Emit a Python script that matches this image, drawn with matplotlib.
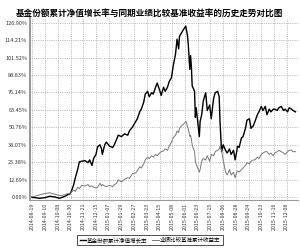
import matplotlib
matplotlib.use("Agg")
import matplotlib.pyplot as plt

plt.rcParams['font.family'] = ['Noto Sans CJK SC', 'DejaVu Sans']

# trading-day index of each sampled point
days = [0, 5, 11, 18, 24, 30, 36, 43, 46, 49, 51, 54, 56, 59, 61, 64, 68, 72, 74, 77,
        79, 82, 84, 87, 89, 90, 93, 95, 99, 103, 105, 108, 110, 114, 118, 122, 124, 128,
        132, 134, 137, 139, 142, 144, 147, 149, 152, 154, 157, 159, 162, 164, 167, 169,
        172, 174, 177, 179, 182, 184, 186, 187, 190, 192, 195, 196, 197, 198, 200, 201,
        202, 203, 206, 207, 208, 210, 212, 213, 215, 217, 220, 222, 225, 227, 230, 232,
        235, 237, 238, 240, 242, 245, 247, 250, 252, 255, 257, 259, 260, 262, 265, 267,
        270, 272, 275, 277, 280, 282, 285, 287, 290, 292, 295, 297, 300, 302, 305, 307,
        310, 312, 315, 318, 320, 323, 325, 328, 330, 333]

# fund cumulative NAV growth (%)
fund = [0, -0.5, -1, -0.5, 0.5, 0, -1, 0.5, 1.5, 2, 4, 9, 14, 20, 25.5, 26, 26.5, 25, 27, 23,
        28, 31, 36.5, 38, 35, 31, 38, 40, 37, 36, 38, 42, 45, 44, 46, 45, 48, 51,
        55, 57, 62, 64, 69, 75, 77, 73, 76, 75, 80, 83, 78, 74, 80, 77,
        80, 84, 87, 95, 104, 115, 108, 117, 120, 122, 124.5, 121, 118, 112, 93, 103,
        95, 81, 77, 58, 65, 55, 44, 55, 60, 70, 76, 63, 67, 57, 72, 76,
        77, 73, 55, 33, 38, 34, 32, 35, 31, 34, 27, 33, 37, 36, 43, 44,
        50, 56, 57, 50, 52, 55, 60, 62, 66, 63, 66, 60, 64, 62, 64, 64,
        63, 65, 66, 63, 64, 62, 65, 64, 63, 62]

# benchmark cumulative return (%)
bench = [0, 0.5, 1.5, 2.5, 3, 2, 1, 1.5, 2.5, 2, 3.5, 5, 4, 7, 6, 8.5, 8, 9, 7.5, 8,
         7, 6.5, 7, 10, 8, 9, 8, 7.5, 8.5, 7.5, 9, 10, 12.5, 11, 13, 14, 13.5, 17,
         17.5, 19, 22, 21, 24, 27, 29, 28, 30, 29, 31, 30, 32, 33, 33.5, 35,
         34, 37, 40, 43, 45, 48, 47, 50, 52, 53, 55, 54, 51, 50, 44, 45,
         42, 38, 33, 26, 24, 21, 18, 20, 26, 28, 27, 30, 26, 31, 30, 33,
         34, 35, 37, 34, 27, 18, 16, 20, 16, 18, 14, 18, 19, 18, 20, 21,
         23, 25, 24, 26, 27, 27, 29, 28, 31, 32, 33, 33, 31, 32, 30, 32,
         33, 34, 33, 32, 31, 33, 34, 34, 33, 33]

tick_days = [2 + 16 * k for k in range(21)]
tick_dates = ["2014-08-19", "2014-09-10", "2014-10-08", "2014-10-30", "2014-11-21",
              "2014-12-15", "2015-01-07", "2015-01-29", "2015-02-27", "2015-03-23",
              "2015-04-15", "2015-05-08", "2015-06-01", "2015-06-23", "2015-07-15",
              "2015-08-06", "2015-08-28", "2015-09-24", "2015-10-23", "2015-11-16",
              "2015-12-08"]
y_ticks = [0.00, 12.69, 25.38, 38.07, 50.76, 63.45, 76.14, 88.83, 101.52, 114.21, 126.90]

fig = plt.figure(figsize=(3.0, 2.49), dpi=100)
ax = fig.add_axes([0.10, 0.197, 0.893, 0.731])

ax.plot(days, fund, color='black', lw=1.0, label='基金份额累计净值增长率')
ax.plot(days, bench, color='#777777', lw=0.7, label='业绩比较基准累计收益率')

ax.set_xlim(-1, 336)
ax.set_ylim(-2.2, 130.5)
ax.set_yticks(y_ticks)
ax.set_yticklabels(['%.2f%%' % v for v in y_ticks], fontsize=4, color='#333333')
ax.set_xticks(tick_days)
ax.set_xticklabels(tick_dates, rotation=90, fontsize=3.8, color='#333333')
ax.tick_params(length=0, pad=2)

ax.grid(True, linestyle=':', color='#888888', lw=0.5)
for s in ['top', 'right']:
    ax.spines[s].set_visible(False)
ax.spines['left'].set_color('#999999')
ax.spines['left'].set_linewidth(1.5)
ax.spines['bottom'].set_color('#999999')
ax.spines['bottom'].set_linewidth(0.8)

fig.suptitle('基金份额累计净值增长率与同期业绩比较基准收益率的历史走势对比图',
             fontsize=6.2, fontweight='bold', y=0.965)

leg = fig.legend(loc='center', bbox_to_anchor=(0.5, 0.036), ncol=2, fontsize=4,
                 handlelength=1.2, handletextpad=0.2, columnspacing=0.8,
                 frameon=True, fancybox=False, borderpad=0.4)
leg.get_frame().set_edgecolor('black')
leg.get_frame().set_linewidth(0.6)

fig.savefig('out.png', dpi=100)
